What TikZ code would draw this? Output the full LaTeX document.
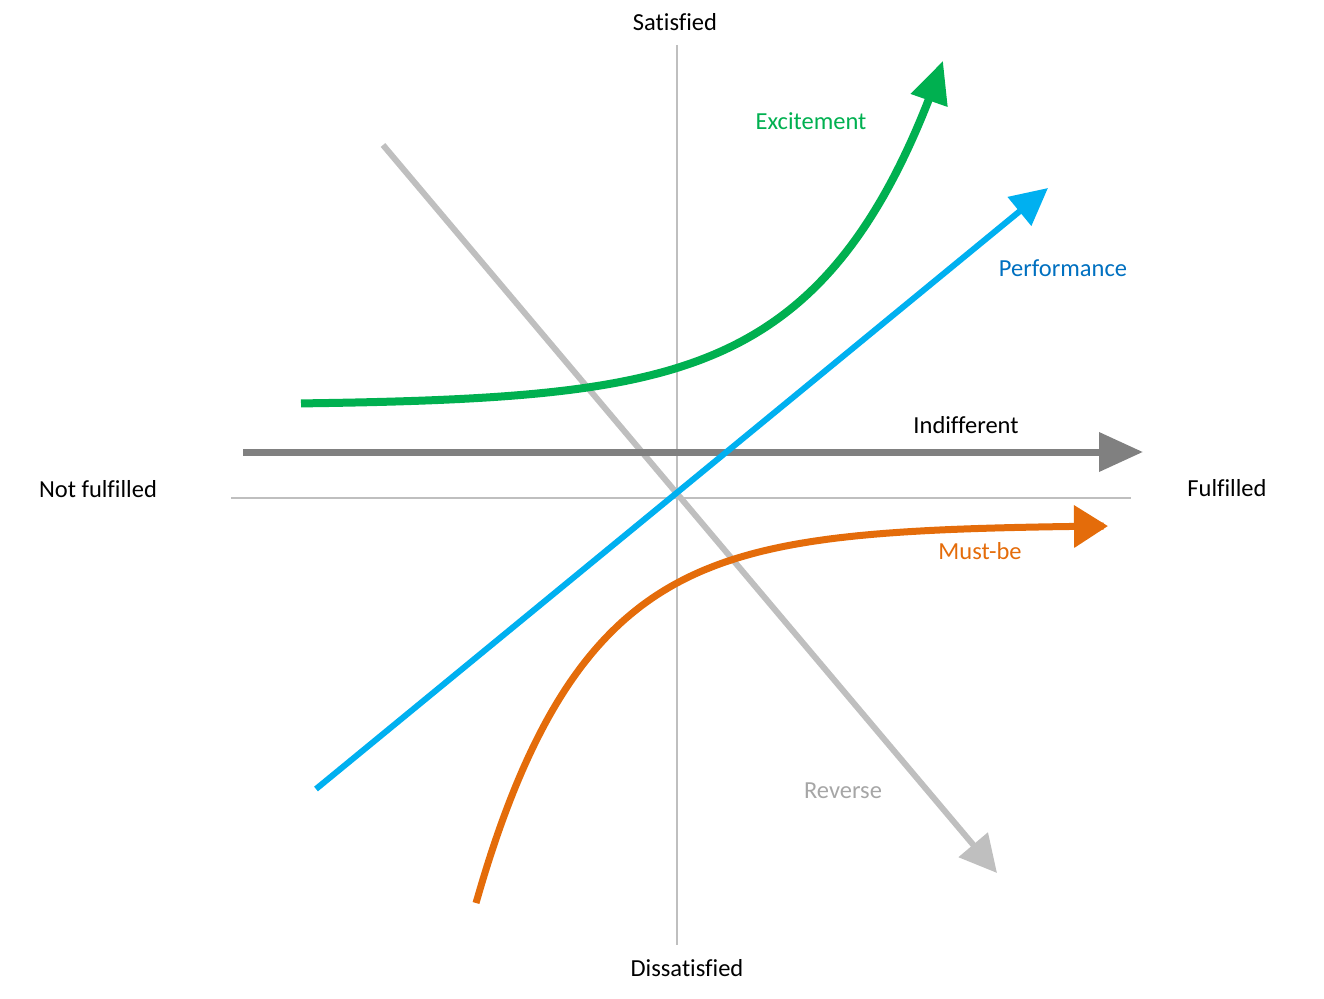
\documentclass[tikz,border=0pt]{standalone}
\usepackage{fontspec}
\setmainfont{Carlito}[Ligatures={NoCommon}]
\usetikzlibrary{arrows.meta}
\definecolor{axisgray}{HTML}{BFBFBF}
\definecolor{indgray}{HTML}{808080}
\definecolor{revgray}{HTML}{BFBFBF}
\definecolor{revtext}{HTML}{A6A6A6}
\definecolor{exgreen}{HTML}{00B050}
\definecolor{perfblue}{HTML}{00B0F0}
\definecolor{perftext}{HTML}{0070C0}
\definecolor{mborange}{HTML}{E46C0A}
\begin{document}
\begin{tikzpicture}[x=1pt,y=-1pt,
  lbl/.style={font=\fontsize{24.5}{29}\selectfont, inner sep=0pt},
  axisline/.style={draw=axisgray, line width=2.5pt}]
\useasboundingbox (0,0) rectangle (1324,998);
% axes
\coordinate (vtop) at (677,45);
\coordinate (vbot) at (677,945);
\coordinate (hl) at (231,498);
\coordinate (hr) at (1131,498);
\draw[axisline] (vtop) -- (vbot);
\draw[axisline] (hl) -- (hr);
% axis labels
\node[lbl] (sat) at (675,22) {Satisfied};
\node[lbl] (dis) at (687,968) {Dissatisfied};
\node[lbl] (nf) at (98,489) {Not fulfilled};
\node[lbl] (ff) at (1227,488) {Fulfilled};
% reverse
\coordinate (r0) at (383,145);
\coordinate (r1) at (997,873);
\draw[draw=revgray, line width=6pt, -{Triangle[length=37pt,width=37pt]}] (r0) -- (r1);
% indifferent
\coordinate (i0) at (243,452);
\coordinate (i1) at (1143,452);
\draw[draw=indgray, line width=7pt, -{Triangle[length=44pt,width=38pt]}] (i0) -- (i1);
% performance
\coordinate (p0) at (316,789);
\coordinate (p1) at (1048,188);
\draw[draw=perfblue, line width=6pt, -{Triangle[length=37pt,width=36pt]}] (p0) -- (p1);
% excitement
\draw[draw=exgreen, line width=8pt, -{Triangle[length=42pt,width=37pt]}]
  plot[domain=301:943, samples=120, smooth] (\x, {405-1.589*exp(0.008372*(\x-301))});
% must-be
\draw[draw=mborange, line width=7pt, -{Triangle[length=34pt,width=41pt]}]
  plot[domain=476:1108, samples=120, smooth] (\x, {525+378*exp(-0.00933*(\x-476))});
% labels
\node[lbl, text=exgreen] (lex) at (811,121) {Excitement};
\node[lbl, text=perftext] (lperf) at (1063,268) {Performance};
\node[lbl] (lind) at (966,425) {Indifferent};
\node[lbl, text=mborange] (lmb) at (980,551) {Must-be};
\node[lbl, text=revtext] (lrev) at (843,791) {Reverse};
\end{tikzpicture}
\end{document}
